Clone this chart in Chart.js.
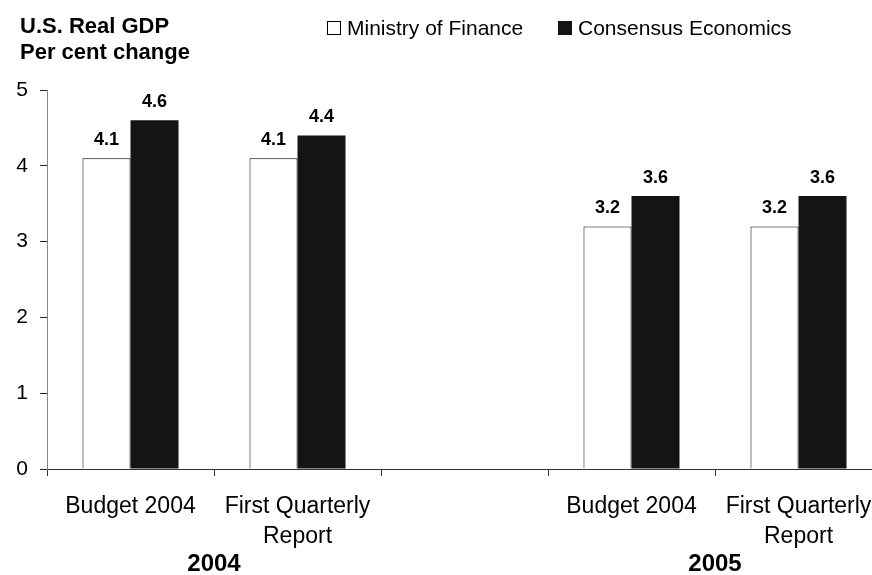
<!DOCTYPE html>
<html>
<head>
<meta charset="utf-8">
<script src="https://cdn.jsdelivr.net/npm/chart.js@4/dist/chart.umd.min.js"></script>
<style>
  html, body { margin: 0; padding: 0; background: #fff; overflow: hidden; }
  #wrap { width: 882px; height: 575px; }
</style>
</head>
<body>
<div id="wrap"><canvas id="chart" width="882" height="575"></canvas></div>
<script>
const categories = [["Budget 2004"], ["First Quarterly", "Report"], "", ["Budget 2004"], ["First Quarterly", "Report"]];
const years = ["2004", "2005"];
const ministry = [4.1, 4.1, null, 3.2, 3.2];
const consensus = [4.6, 4.4, null, 3.6, 3.6];
const seriesNames = ["Ministry of Finance", "Consensus Economics"];
const titleLines = ["U.S. Real GDP", "Per cent change"];

const FONT = "'Liberation Sans', Arial, sans-serif";
const DARK = "#141414";

// value labels above each bar
const valueLabels = {
  id: "valueLabels",
  afterDatasetsDraw(chart) {
    const ctx = chart.ctx;
    ctx.save();
    ctx.font = "bold 18px " + FONT;
    ctx.fillStyle = "#000";
    ctx.textAlign = "center";
    ctx.textBaseline = "alphabetic";
    chart.data.datasets.forEach((ds, i) => {
      chart.getDatasetMeta(i).data.forEach((bar, j) => {
        const v = ds.data[j];
        if (v == null) return;
        ctx.fillText(v.toFixed(1), bar.x, bar.y - 13);
      });
    });
    ctx.restore();
  }
};

// title, legend and year group labels
const decorations = {
  id: "decorations",
  afterDraw(chart) {
    const ctx = chart.ctx;
    const x = chart.scales.x;
    ctx.save();
    ctx.fillStyle = "#000";
    ctx.textAlign = "left";
    ctx.textBaseline = "alphabetic";
    ctx.font = "bold 22px " + FONT;
    ctx.fillText(titleLines[0], 20, 33);
    ctx.fillText(titleLines[1], 20, 59);

    // legend
    ctx.font = "21px " + FONT;
    ctx.fillStyle = "#fff";
    ctx.fillRect(327.5, 21.5, 13, 13);
    ctx.strokeStyle = "#000";
    ctx.lineWidth = 1;
    ctx.strokeRect(327.5, 21.5, 13, 13);
    ctx.fillStyle = "#000";
    ctx.fillText(seriesNames[0], 347, 35);
    ctx.fillStyle = DARK;
    ctx.fillRect(558, 21, 14, 14);
    ctx.fillStyle = "#000";
    ctx.fillText(seriesNames[1], 578, 35);

    // year labels centred between each pair of categories
    ctx.font = "bold 24px " + FONT;
    ctx.textAlign = "center";
    ctx.textBaseline = "middle";
    const y1 = (x.getPixelForValue(0) + x.getPixelForValue(1)) / 2;
    const y2 = (x.getPixelForValue(3) + x.getPixelForValue(4)) / 2;
    ctx.fillText(years[0], y1, 564);
    ctx.fillText(years[1], y2, 564);
    ctx.restore();
  }
};

new Chart(document.getElementById("chart"), {
  type: "bar",
  data: {
    labels: categories,
    datasets: [
      {
        label: seriesNames[0],
        data: ministry,
        backgroundColor: "#ffffff",
        borderColor: "#000000",
        borderWidth: 1,
        borderSkipped: "bottom",
      },
      {
        label: seriesNames[1],
        data: consensus,
        backgroundColor: DARK,
        borderWidth: 0,
      },
    ],
  },
  options: {
    responsive: false,
    animation: false,
    events: [],
    layout: { padding: { top: 90, left: 0, right: 0, bottom: 0 } },
    datasets: {
      bar: { categoryPercentage: 0.575, barPercentage: 1.0 },
    },
    scales: {
      x: {
        grid: {
          offset: true,
          drawOnChartArea: false,
          tickLength: 7,
          color: "#333",
        },
        border: { color: "#333", width: 1 },
        ticks: {
          color: "#000",
          padding: 16,
          maxRotation: 0,
          autoSkip: false,
          font: { family: FONT, size: 23, lineHeight: 1.3 },
        },
        afterFit(scale) {
          scale.height = 106;
          scale.paddingLeft = 0;
          scale.paddingRight = 0;
        },
      },
      y: {
        min: 0,
        max: 5,
        grid: {
          drawOnChartArea: false,
          tickLength: 7,
          color: "#222",
        },
        border: { color: "#888", width: 1 },
        ticks: {
          stepSize: 1,
          color: "#000",
          padding: 12,
          font: { family: FONT, size: 21 },
        },
        afterFit(scale) { scale.width = 47; },
      },
    },
    plugins: {
      legend: { display: false },
      tooltip: { enabled: false },
    },
  },
  plugins: [valueLabels, decorations],
});
</script>
</body>
</html>
